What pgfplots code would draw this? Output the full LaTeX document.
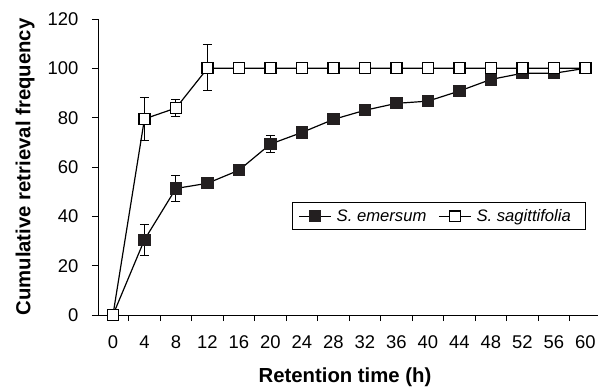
\documentclass[border=0pt]{standalone}
\usepackage{pgfplots}
\pgfplotsset{compat=1.18}
\usepackage{pgfplotstable}
\usepackage{fontspec}
\setmainfont{Liberation Sans}
\definecolor{mk}{HTML}{231F20}
\newcommand\tickfont{\fontsize{18.5}{20}\selectfont}
\pgfplotstableread{
x y
0 0
4 30.5
8 51.3
12 53.4
16 58.7
20 69.3
24 74
28 79.3
32 83
36 85.8
40 86.7
44 90.8
48 95.5
52 98
56 98
60 100
}\emersum
\pgfplotstableread{
x y
0 0
4 79.5
8 83.9
12 100
16 100
20 100
24 100
28 100
32 100
36 100
40 100
44 100
48 100
52 100
56 100
60 100
}\sagitt
\pgfplotstableread{
x y e
4 30.5 6.3
8 51.3 5.3
20 69.3 3.6
}\emersumerr
\pgfplotstableread{
x y e
4 79.5 8.8
8 83.9 3.3
12 100.3 9.2
}\sagitterr
\begin{document}
\begin{tikzpicture}
\useasboundingbox (-98bp,-72bp) rectangle (500bp,315bp);
\begin{axis}[
  scale only axis, width=500bp, height=296bp,
  xmin=-1.9, xmax=61.6, ymin=0, ymax=120,
  axis lines*=left,
  axis line style={-, line width=1pt, black},
  ytick={0,20,40,60,80,100,120},
  yticklabels={{\tickfont 0},{\tickfont 20},{\tickfont 40},{\tickfont 60},{\tickfont 80},{\tickfont 100},{\tickfont 120}},
  xtick={0,4,8,12,16,20,24,28,32,36,40,44,48,52,56,60},
  xticklabels={{\tickfont 0},{\tickfont 4},{\tickfont 8},{\tickfont 12},{\tickfont 16},{\tickfont 20},{\tickfont 24},{\tickfont 28},{\tickfont 32},{\tickfont 36},{\tickfont 40},{\tickfont 44},{\tickfont 48},{\tickfont 52},{\tickfont 56},{\tickfont 60}},
  minor xtick={2,6,...,58},
  tick align=outside,
  major tick length=6bp,
  minor tick length=6bp,
  major x tick style={draw=none},
  tick style={line width=1pt, black},
  every tick label/.append style={font=\tickfont},
  xticklabel style={yshift=-11bp},
  yticklabel style={xshift=-10bp},
  xlabel={Retention time (h)},
  ylabel={Cumulative retrieval frequency},
  xlabel style={font=\fontsize{20.4}{22}\selectfont\bfseries, at={(axis description cs:0.494,-0.2095)}, anchor=center},
  ylabel style={font=\fontsize{20.4}{22}\selectfont\bfseries, at={(axis description cs:-0.146,0.5)}, anchor=center},
  legend columns=2,
  legend style={at={(axis description cs:0.388,0.382)}, anchor=north west, draw=black, line width=1pt,
    font=\fontsize{16.7}{18}\selectfont\itshape, inner xsep=6bp, inner ysep=7bp,
    nodes={inner sep=0bp},
    /tikz/every odd column/.append style={column sep=5bp},
    /tikz/every even column/.append style={column sep=12bp}},
  legend image code/.code={\draw[mark repeat=2,mark phase=2, mark size=5.25bp] plot coordinates {(0bp,0bp)(16bp,0bp)(32bp,0bp)};},
]
\addplot[forget plot, only marks, mark=none, error bars/.cd, y dir=both, y explicit,
  error bar style={black, solid, line width=1pt}, error mark options={black, line width=1pt, mark size=4.5bp, rotate=90}]
  table[x=x, y=y, y error=e] {\emersumerr};
\addplot[forget plot, only marks, mark=none, error bars/.cd, y dir=both, y explicit,
  error bar style={black, solid, line width=1pt}, error mark options={black, line width=1pt, mark size=4.5bp, rotate=90}]
  table[x=x, y=y, y error=e] {\sagitterr};
\addplot[black, line width=1.2bp, mark=square*, mark size=5.5bp, mark options={fill=mk, draw=mk, solid}]
  table[x=x, y=y] {\emersum};
\addlegendentry{S. emersum}
\addplot[black, line width=1.2bp, mark=square*, mark size=5.5bp, mark options={fill=white, draw=black, solid}]
  table[x=x, y=y] {\sagitt};
\addlegendentry{S. sagittifolia\hspace*{9bp}}
\end{axis}
\end{tikzpicture}
\end{document}
